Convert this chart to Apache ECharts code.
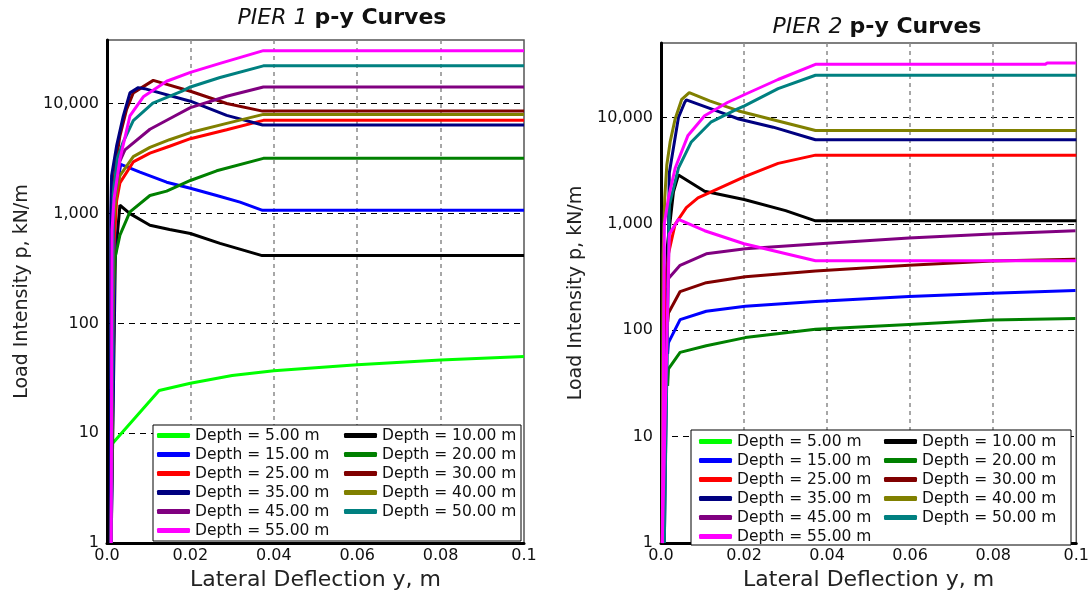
<!DOCTYPE html>
<html>
<head>
<meta charset="utf-8">
<script src="https://cdn.jsdelivr.net/npm/echarts@6/dist/echarts.min.js"></script>
<style>
  html, body { margin: 0; padding: 0; background: #fff; }
  #chart { width: 1092px; height: 596px; }
</style>
</head>
<body>
<div id="chart"></div>
<script>
// Legend names and line colours, one per depth
const depthNames = [
  'Depth = 5.00 m', 'Depth = 10.00 m', 'Depth = 15.00 m', 'Depth = 20.00 m',
  'Depth = 25.00 m', 'Depth = 30.00 m', 'Depth = 35.00 m', 'Depth = 40.00 m',
  'Depth = 45.00 m', 'Depth = 50.00 m', 'Depth = 55.00 m'
];
const depthColors = [
  '#00ff00', '#000000', '#0000ff', '#008000', '#ff0000', '#800000',
  '#000080', '#808000', '#800080', '#008080', '#ff00ff'
];
const xTickLabels = ['0.0', '0.02', '0.04', '0.06', '0.08', '0.1'];
const yTickValues = [1, 10, 100, 1000, 10000];

// PIER 1: [lateral deflection y (m), load intensity p (kN/m)]
const pier1Depth05 = [[0.0011, 7.9], [0.0125, 24.5], [0.02, 28.5], [0.03, 33.5], [0.04, 37], [0.06, 42], [0.08, 46.5], [0.1, 50]];
const pier1Depth10 = [[0.001, 1], [0.002, 400], [0.0031, 1190], [0.0055, 998], [0.0103, 782], [0.015, 715], [0.02, 658], [0.0271, 535], [0.0372, 414], [0.1, 414]];
const pier1Depth15 = [[0.001, 1], [0.002, 1500], [0.0033, 2800], [0.0079, 2380], [0.0143, 1930], [0.02, 1700], [0.0263, 1460], [0.0319, 1270], [0.0373, 1070], [0.1, 1070]];
const pier1Depth20 = [[0.001, 1], [0.0015, 150], [0.0019, 392], [0.0031, 635], [0.0055, 1035], [0.0103, 1460], [0.0143, 1600], [0.02, 2000], [0.0263, 2450], [0.0375, 3180], [0.1, 3180]];
const pier1Depth25 = [[0.001, 1], [0.0015, 400], [0.0023, 1300], [0.0031, 1900], [0.0063, 2950], [0.0103, 3550], [0.015, 4100], [0.02, 4800], [0.0287, 5800], [0.0375, 7050], [0.1, 7050]];
const pier1Depth30 = [[0.001, 1], [0.0013, 1000], [0.0019, 2550], [0.0031, 5100], [0.0047, 8870], [0.0063, 12540], [0.0111, 16300], [0.02, 12970], [0.0287, 10040], [0.0373, 8560], [0.1, 8560]];
const pier1Depth35 = [[0.0008, 1], [0.0009, 1000], [0.0011, 2210], [0.0023, 4130], [0.0039, 7710], [0.0055, 12540], [0.0075, 14000], [0.009, 13700], [0.02, 10540], [0.0287, 7820], [0.0373, 6390], [0.1, 6390]];
const pier1Depth40 = [[0.001, 1], [0.0015, 800], [0.0023, 1570], [0.0031, 2210], [0.0063, 3300], [0.0103, 4000], [0.015, 4700], [0.02, 5460], [0.0287, 6620], [0.0375, 7990], [0.1, 7990]];
const pier1Depth45 = [[0.001, 1], [0.0015, 1200], [0.0031, 3000], [0.0043, 3800], [0.0103, 5850], [0.015, 7300], [0.02, 9200], [0.0287, 11700], [0.0375, 14200], [0.1, 14200]];
const pier1Depth50 = [[0.001, 1], [0.0015, 1500], [0.0025, 3200], [0.0039, 4500], [0.0063, 7000], [0.011, 10100], [0.018, 13000], [0.02, 14200], [0.0271, 17300], [0.0375, 22100], [0.1, 22100]];
const pier1Depth55 = [[0.001, 1], [0.0012, 700], [0.0017, 1370], [0.0031, 3130], [0.0055, 7730], [0.0087, 11560], [0.0143, 16000], [0.02, 19300], [0.0271, 23300], [0.0375, 30400], [0.1, 30400]];

// PIER 2: [lateral deflection y (m), load intensity p (kN/m)]
const pier2Depth05 = [];
const pier2Depth10 = [[0.0005, 1], [0.0015, 600], [0.003, 2000], [0.0042, 2880], [0.0105, 2020], [0.02, 1690], [0.03, 1330], [0.0372, 1066], [0.1, 1066]];
const pier2Depth15 = [[0.0016, 60], [0.0018, 76.6], [0.0046, 126], [0.0109, 151], [0.0203, 168], [0.0372, 186.6], [0.0597, 207], [0.0797, 223], [0.0998, 236]];
const pier2Depth20 = [[0.0016, 30], [0.0018, 43.4], [0.0046, 62], [0.0109, 71.4], [0.0203, 85.3], [0.0372, 102], [0.0597, 113.5], [0.0797, 124.5], [0.0998, 129]];
const pier2Depth25 = [[0.0005, 1], [0.001, 257], [0.0018, 523], [0.0034, 991], [0.0061, 1420], [0.0089, 1750], [0.0203, 2790], [0.0282, 3700], [0.0372, 4420], [0.1, 4420]];
const pier2Depth30 = [[0.0016, 120], [0.0018, 145], [0.0046, 231], [0.0109, 280], [0.0203, 318], [0.0372, 361], [0.0597, 408], [0.0797, 447], [0.0998, 464]];
const pier2Depth35 = [[0.0008, 1], [0.002, 3000], [0.0042, 10000], [0.0057, 13800], [0.0061, 14600], [0.0144, 11140], [0.0187, 9660], [0.027, 8090], [0.0372, 6170], [0.1, 6170]];
const pier2Depth40 = [[0.0003, 1], [0.0005, 500], [0.0009, 1750], [0.0014, 3570], [0.0022, 5880], [0.0034, 9660], [0.005, 14800], [0.0068, 17100], [0.0117, 14300], [0.0187, 11500], [0.0372, 7540], [0.1, 7540]];
const pier2Depth45 = [[0.0016, 250], [0.0018, 307], [0.0046, 408], [0.0109, 523], [0.0203, 582], [0.0372, 647], [0.0597, 736], [0.0797, 801], [0.0998, 861]];
const pier2Depth50 = [[0.0008, 1], [0.002, 1500], [0.0042, 3330], [0.0073, 5880], [0.012, 9010], [0.0183, 11960], [0.0201, 12850], [0.0282, 18600], [0.0372, 24900], [0.1, 24900]];
const pier2Depth55 = [[0.0003, 1], [0.0008, 1000], [0.0018, 1750], [0.0034, 3330], [0.0065, 6770], [0.0105, 10370], [0.016, 13800], [0.0203, 16500], [0.0282, 22700], [0.0372, 31500], [0.0925, 31500], [0.093, 32400], [0.1, 32400]];
// second 55 m branch that softens after its early peak
const pier2Depth55Branch = [[0.0003, 1], [0.002, 800], [0.0042, 1100], [0.0105, 861], [0.02, 650], [0.0372, 450], [0.1, 450]];

const pier1Data = [pier1Depth05, pier1Depth10, pier1Depth15, pier1Depth20, pier1Depth25, pier1Depth30,
                   pier1Depth35, pier1Depth40, pier1Depth45, pier1Depth50, pier1Depth55];
const pier2Data = [pier2Depth05, pier2Depth10, pier2Depth15, pier2Depth20, pier2Depth25, pier2Depth30,
                   pier2Depth35, pier2Depth40, pier2Depth45, pier2Depth50, pier2Depth55];

const FONT = 'DejaVu Sans';
const TEXT = '#111';

function lineSeries(name, color, data, idx) {
  return {
    type: 'line', name: name, data: data,
    xAxisIndex: idx, yAxisIndex: idx,
    symbol: 'none', showSymbol: false,
    lineStyle: { color: color, width: 3 },
    itemStyle: { color: color },
    emphasis: { disabled: true },
    z: 3
  };
}

const series = [];
pier1Data.forEach((d, i) => series.push(lineSeries(depthNames[i], depthColors[i], d, 0)));
pier2Data.forEach((d, i) => series.push(lineSeries(depthNames[i], depthColors[i], d, 1)));
series.push(lineSeries(depthNames[10], depthColors[10], pier2Depth55Branch, 1));

function xAxis(gridIndex) {
  return {
    type: 'value', gridIndex: gridIndex, min: 0, max: 0.1, interval: 0.02,
    name: 'Lateral Deflection y, m', nameLocation: 'middle', nameGap: 18,
    nameTextStyle: { fontFamily: FONT, fontSize: 22, color: '#222' },
    axisLine: { show: true, lineStyle: { color: '#000', width: 3 } },
    axisTick: { show: false },
    axisLabel: {
      fontFamily: FONT, fontSize: 16, color: TEXT, margin: 5,
      formatter: v => xTickLabels[Math.round(v / 0.02)]
    },
    splitLine: {
      show: true, showMinLine: false, showMaxLine: false,
      lineStyle: { color: '#8a8a8a', type: [4, 4], width: 1.5 }
    }
  };
}

function yAxis(gridIndex, max) {
  return {
    type: 'log', gridIndex: gridIndex, logBase: 10, min: 1, max: max,
    name: 'Load Intensity p, kN/m', nameLocation: 'middle', nameGap: 75, nameRotate: 90,
    nameTextStyle: { fontFamily: FONT, fontSize: 19, color: '#222' },
    axisLine: { show: true, lineStyle: { color: '#000', width: 3 } },
    axisTick: { show: false },
    axisLabel: {
      fontFamily: FONT, fontSize: 16, color: TEXT, margin: 8, showMaxLabel: false,
      formatter: v => {
        const hit = yTickValues.find(t => Math.abs(t - v) / t < 1e-6);
        return hit === undefined ? '' : hit.toLocaleString('en-US');
      }
    },
    splitLine: {
      show: true, showMinLine: false, showMaxLine: false,
      lineStyle: { color: '#000', type: [6, 5], width: 1 }
    }
  };
}

function legendColumn(left, top, names) {
  return {
    orient: 'vertical', left: left, top: top, padding: 0,
    itemGap: 2, itemWidth: 33, itemHeight: 5, icon: 'roundRect',
    data: names, selectedMode: false, z: 11,
    textStyle: { fontFamily: FONT, fontSize: 15.5, color: TEXT, lineHeight: 17, padding: [0, 0, 0, 0] }
  };
}

const colA = depthNames.filter((_, i) => i % 2 === 0);
const colB = depthNames.filter((_, i) => i % 2 === 1);

const titleRich = {
  i: { fontFamily: FONT, fontStyle: 'italic', fontWeight: 'normal', fontSize: 22, color: TEXT },
  b: { fontFamily: FONT, fontWeight: 'bold', fontSize: 22, color: TEXT }
};

const chart = echarts.init(document.getElementById('chart'), null, { renderer: 'canvas' });
chart.setOption({
  animation: false,
  backgroundColor: '#fff',
  title: [
    { text: '{i|PIER 1} {b|p-y Curves}', left: 337, top: 2, textAlign: 'center',
      textStyle: { fontFamily: FONT, fontSize: 22, fontWeight: 'normal', rich: titleRich } },
    { text: '{i|PIER 2} {b|p-y Curves}', left: 872, top: 11, textAlign: 'center',
      textStyle: { fontFamily: FONT, fontSize: 22, fontWeight: 'normal', rich: titleRich } }
  ],
  grid: [
    { left: 107, top: 40, width: 417, height: 507, show: true, borderColor: '#555', borderWidth: 1.5, backgroundColor: 'transparent' },
    { left: 661, top: 43, width: 423, height: 507, show: true, borderColor: '#555', borderWidth: 1.5, backgroundColor: 'transparent' }
  ],
  xAxis: [xAxis(0), xAxis(1)],
  yAxis: [yAxis(0, 38000), yAxis(1, 50000)],
  legend: [
    legendColumn(157, 427, colA),
    legendColumn(344, 427, colB),
    legendColumn(699, 433, colA),
    legendColumn(884, 433, colB)
  ],
  graphic: [
    { type: 'rect', z: 10, shape: { x: 153, y: 425, width: 368, height: 116 },
      style: { fill: '#fff', stroke: '#000', lineWidth: 1 } },
    { type: 'rect', z: 10, shape: { x: 691, y: 430, width: 380, height: 115 },
      style: { fill: '#fff', stroke: '#000', lineWidth: 1 } }
  ],
  series: series
});
</script>
</body>
</html>
